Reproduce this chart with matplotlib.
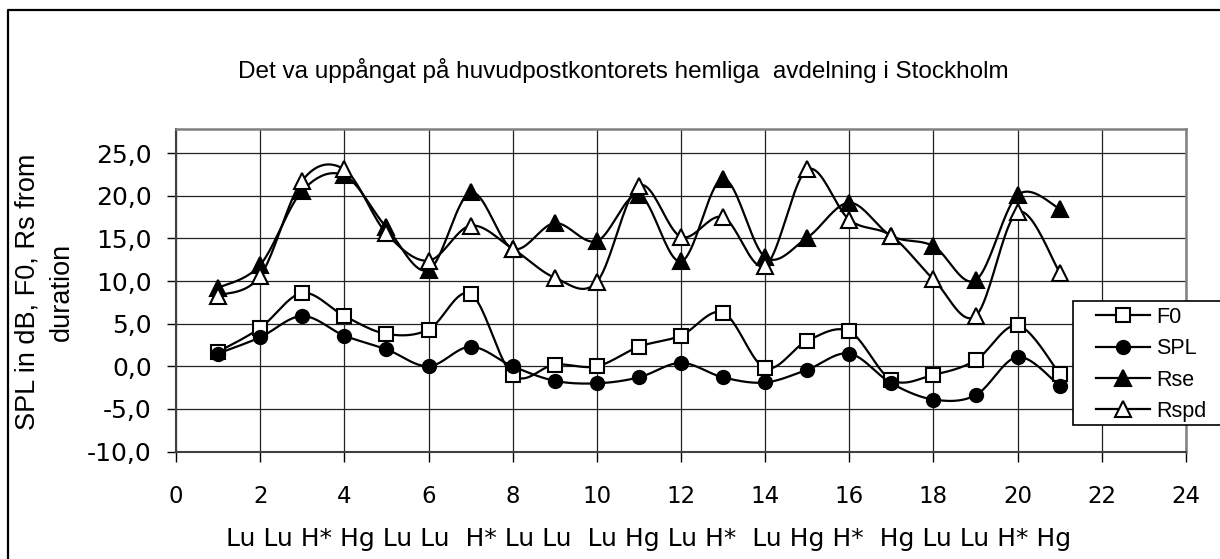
import numpy as np
import matplotlib
matplotlib.use("Agg")
import matplotlib.pyplot as plt
from matplotlib.lines import Line2D
from matplotlib.patches import Rectangle

# syllable index 1..21
x = list(range(1, 22))
f0 = [1.7, 4.5, 8.6, 5.9, 3.8, 4.3, 8.5, -1.0, 0.2, 0.0, 2.3, 3.6, 6.3, -0.2, 3.0, 4.1, -1.6, -1.0, 0.7, 4.8, -0.9]
spl = [1.5, 3.4, 5.9, 3.6, 2.0, 0.0, 2.3, 0.0, -1.7, -2.0, -1.3, 0.4, -1.3, -1.9, -0.4, 1.5, -2.0, -3.9, -3.4, 1.1, -2.3]
rse = [9.2, 11.9, 20.6, 22.4, 16.3, 11.3, 20.4, 13.8, 16.8, 14.7, 20.1, 12.3, 22.0, 12.8, 15.1, 19.2, 15.3, 14.1, 10.1, 20.1, 18.5]
rspd = [8.3, 10.6, 21.8, 23.1, 15.6, 12.4, 16.5, 13.8, 10.4, 9.9, 21.2, 15.2, 17.5, 11.8, 23.1, 17.2, 15.3, 10.2, 5.9, 18.1, 11.0]

series_names = ["F0", "SPL", "Rse", "Rspd"]
xticks = list(range(0, 25, 2))
yticks = [-10, -5, 0, 5, 10, 15, 20, 25]

title = "Det va uppångat på huvudpostkontorets hemliga  avdelning i Stockholm"
ylabel = "SPL in dB, F0, Rs from\nduration"
syllables = "Lu Lu H* Hg Lu Lu  H* Lu Lu  Lu Hg Lu H*  Lu Hg H*  Hg Lu Lu H* Hg"


def smooth(xs, ys, n=24):
    # excel-like smoothed line (catmull-rom as bezier)
    p = np.column_stack([xs, ys]).astype(float)
    pp = np.vstack([p[0], p, p[-1]])
    t = np.linspace(0, 1, n)[:, None]
    out = []
    for i in range(len(p) - 1):
        p0, p1, p2, p3 = pp[i], pp[i + 1], pp[i + 2], pp[i + 3]
        c1 = p1 + (p2 - p0) / 6
        c2 = p2 - (p3 - p1) / 6
        seg = (1 - t) ** 3 * p1 + 3 * (1 - t) ** 2 * t * c1 + 3 * (1 - t) * t ** 2 * c2 + t ** 3 * p2
        out.append(seg if i == 0 else seg[1:])
    return np.vstack(out)


W, H = 1220, 559
fig = plt.figure(figsize=(W / 100, H / 100), dpi=100)
ax = fig.add_axes([176 / W, 1 - 451.5 / H, (1186 - 176) / W, (451.5 - 129) / H])

styles = [
    dict(marker="s", mfc="white", ms=10.5),
    dict(marker="o", mfc="black", ms=9.5),
    dict(marker="^", mfc="black", ms=11),
    dict(marker="^", mfc="white", ms=11),
]

handles = []
for i, (ys, st) in enumerate(zip([f0, spl, rse, rspd], styles)):
    c = smooth(x, ys)
    ax.plot(c[:, 0], c[:, 1], color="black", lw=1.6, zorder=3 + i, solid_capstyle="round")
    ax.plot(x, ys, ls="none", marker=st["marker"], mfc=st["mfc"], mec="black",
            mew=1.5, ms=st["ms"], zorder=3 + i)
    handles.append(Line2D([], [], color="black", lw=1.6, marker=st["marker"],
                          mfc=st["mfc"], mec="black", mew=1.5, ms=st["ms"]))

ax.set_xlim(0, 24)
ax.set_ylim(-10, 27.85)
ax.set_xticks(xticks)
ax.set_yticks(yticks)
ax.set_xticklabels([str(v) for v in xticks], fontfamily="DejaVu Sans", fontsize=16.5)
ax.set_yticklabels([f"{v:.1f}".replace(".", ",") for v in yticks], fontfamily="DejaVu Sans", fontsize=18)
ax.tick_params(axis="x", direction="out", length=7, width=1, pad=17, color="black")
ax.tick_params(axis="y", direction="out", length=6.5, width=1, pad=11, color="black")
ax.grid(True, color="#222222", lw=0.9)
ax.set_axisbelow(True)
for s in ["top", "right"]:
    ax.spines[s].set_color("#808080")
    ax.spines[s].set_linewidth(1.8)
for s in ["left", "bottom"]:
    ax.spines[s].set_color("#404040")
    ax.spines[s].set_linewidth(1.5)

fig.text(623.5 / W, 1 - 78.3 / H, title, ha="center", va="baseline",
         fontfamily="Liberation Sans", fontsize=17.5)
fig.text(45 / W, 1 - 291.5 / H, ylabel, ha="center", va="center", rotation=90,
         multialignment="center", linespacing=1.4, fontfamily="Liberation Sans", fontsize=19.5)
fig.text(649 / W, 1 - 546 / H, syllables, ha="center", va="baseline",
         fontfamily="DejaVu Sans", fontsize=18)

# legend box (runs past the right edge like the original)
fig.patches.append(Rectangle((1072.7 / W, 1 - 425 / H), 200 / W, 124 / H,
                             transform=fig.transFigure, facecolor="white",
                             edgecolor="black", lw=1.2, zorder=10))
leg = fig.legend(handles, series_names, loc="upper left",
                 bbox_to_anchor=(1096 / W, 1 - 307 / H), frameon=False,
                 borderpad=0, borderaxespad=0, handlelength=2.5, handletextpad=0.3,
                 labelspacing=0.48, prop={"family": "Liberation Sans", "size": 15.5})
leg.set_zorder(11)

# outer chart border (only left and top visible)
fig.lines.append(Line2D([7.5 / W, 7.5 / W, 1.0], [0.0, 1 - 9.5 / H, 1 - 9.5 / H],
                        transform=fig.transFigure, color="black", lw=1.6))

fig.savefig("out.png", dpi=100)
